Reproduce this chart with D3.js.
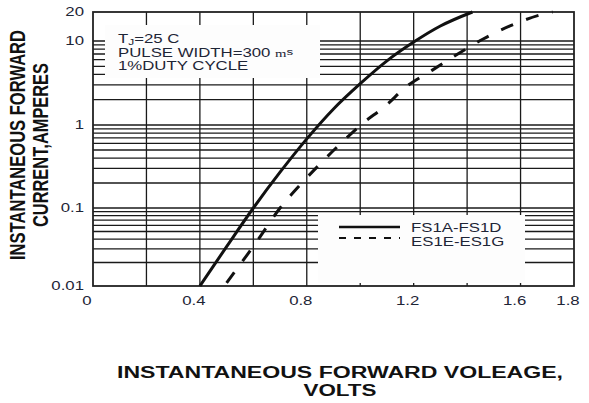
<!DOCTYPE html>
<html>
<head>
<meta charset="utf-8">
<script src="https://cdn.jsdelivr.net/npm/d3@7/dist/d3.min.js"></script>
<style>
  body { margin: 0; background: #fff; }
  text { font-family: "Liberation Sans", Arial, sans-serif; }
</style>
</head>
<body>
<div id="chart"></div>
<script>
// values
const fs1aVolts = [0.40, 0.50, 0.60, 0.70, 0.80, 0.90, 1.00, 1.10, 1.20, 1.30, 1.42];
const fs1aAmps  = [0.010, 0.032, 0.10, 0.27, 0.68, 1.55, 3.1, 5.8, 9.7, 14.3, 20];

const es1eVolts = [0.50, 0.61, 0.70, 0.775, 0.85, 0.925, 1.01, 1.09, 1.175, 1.27, 1.365, 1.46, 1.57, 1.70, 1.72];
const es1eAmps  = [0.011, 0.036, 0.10, 0.19, 0.34, 0.59, 1.05, 1.64, 2.9, 4.5, 7.0, 10.5, 14.7, 19.5, 20];

const seriesNames = ["FS1A-FS1D", "ES1E-ES1G"];

const xTickValues = [0, 0.4, 0.8, 1.2, 1.6, 1.8];
const xTickLabels = ["0", "0.4", "0.8", "1.2", "1.6", "1.8"];
const xGridValues = [0.2, 0.4, 0.6, 0.8, 1.0, 1.2, 1.4, 1.6];
const yTickValues = [0.01, 0.1, 1, 10, 20];
const yTickLabels = ["0.01", "0.1", "1", "10", "20"];

const xTitle = ["INSTANTANEOUS FORWARD VOLEAGE,", "VOLTS"];
const yTitle = ["INSTANTANEOUS FORWARD", "CURRENT,AMPERES"];

// the picture is stretched sideways, so every text is too
const SX = 1.4;
const TEXT_COLOR = "#1e2536";
const GRID_COLOR = "#1a1a1a";

const svg = d3.select("#chart")
  .append("svg")
  .attr("width", 589)
  .attr("height", 403);

const x = d3.scaleLinear()
  .domain([0, 1.8])
  .range([93, 574]);

// decades in the original are not quite even
const y = d3.scaleLog()
  .domain([0.01, 0.1, 1, 10, 20])
  .range([286, 208, 125, 41, 12]);

const addText = (g, px, py, str, size, { weight = "normal", anchor = "start", fill = TEXT_COLOR, rotate = 0 } = {}) => g.append("text")
  .attr("transform", `translate(${px},${py}) scale(${SX},1)` + (rotate ? ` rotate(${rotate})` : ""))
  .attr("font-size", size)
  .attr("font-weight", weight)
  .attr("text-anchor", anchor)
  .attr("fill", fill)
  .text(str);

// minor grid for the log axis
const yGridValues = [];
[0.01, 0.1, 1].forEach(decade => {
  for (let k = 1; k <= 9; k++) yGridValues.push(decade * k);
});
yGridValues.push(10);

const grid = svg.append("g")
  .attr("stroke", GRID_COLOR)
  .attr("stroke-width", 1.3);

grid.selectAll("line.h")
  .data(yGridValues.filter(v => v > 0.01))
  .enter()
  .append("line")
  .attr("x1", x(0))
  .attr("x2", x(1.8))
  .attr("y1", d => y(d))
  .attr("y2", d => y(d));

grid.selectAll("line.v")
  .data(xGridValues)
  .enter()
  .append("line")
  .attr("x1", d => x(d))
  .attr("x2", d => x(d))
  .attr("y1", y(20))
  .attr("y2", y(0.01));

// white panels that hide the grid behind the notes and the legend
svg.append("rect")
  .attr("x", 105).attr("y", 25)
  .attr("width", 215).attr("height", 53)
  .attr("fill", "#fdfdfd");

svg.append("rect")
  .attr("x", 318).attr("y", 215)
  .attr("width", 207).attr("height", 68)
  .attr("fill", "#fdfdfd");

// frame
svg.append("rect")
  .attr("x", x(0))
  .attr("y", y(20))
  .attr("width", x(1.8) - x(0))
  .attr("height", y(0.01) - y(20))
  .attr("fill", "none")
  .attr("stroke", "#222")
  .attr("stroke-width", 1.8);

// curves
const line = d3.line()
  .x(d => x(d[0]))
  .y(d => y(d[1]))
  .curve(d3.curveMonotoneX);

const series = [
  { name: seriesNames[0], values: d3.zip(fs1aVolts, fs1aAmps), dash: null },
  { name: seriesNames[1], values: d3.zip(es1eVolts, es1eAmps), dash: "13,14" },
];

svg.selectAll("path.curve")
  .data(series)
  .enter()
  .append("path")
  .attr("class", "curve")
  .attr("d", d => line(d.values))
  .attr("fill", "none")
  .attr("stroke", "#111")
  .attr("stroke-width", 3)
  .attr("stroke-dasharray", d => d.dash);

// tick labels
const labels = svg.append("g");

xTickValues.forEach((v, i) => addText(labels, x(v) - 6, 305, xTickLabels[i], 12, { anchor: "middle" }));
yTickValues.forEach((v, i) => addText(labels, 84, y(v) + 4, yTickLabels[i], 12, { anchor: "end" }));

// conditions note
const note = addText(labels, 118, 43, "T", 12);
note.append("tspan").attr("font-size", 8.5).attr("dy", 2).text("J");
note.append("tspan").attr("dy", -2).text("=25 C");

const pulse = addText(labels, 118, 56.5, "PULSE WIDTH=300 ", 12);
pulse.append("tspan").attr("font-family", "Liberation Serif, serif").attr("font-size", 10.5).text("m");
pulse.append("tspan").attr("font-size", 9.5).attr("dy", -2).text("s");

addText(labels, 118, 70, "1%DUTY CYCLE", 12);

// legend
const legend = svg.append("g");
series.forEach((s, i) => {
  legend.append("line")
    .attr("x1", 339).attr("x2", 400)
    .attr("y1", 227 + i * 11).attr("y2", 227 + i * 11)
    .attr("stroke", "#111")
    .attr("stroke-width", i ? 1.8 : 2.6)
    .attr("stroke-dasharray", i ? "7,8" : null);
  addText(legend, 411, 232 + i * 13.5, s.name, 12);
});

// axis titles
const titles = svg.append("g");
addText(titles, 340, 378, xTitle[0], 16, { weight: "bold", anchor: "middle", fill: "#111" })
  .attr("textLength", 446 / SX).attr("lengthAdjust", "spacingAndGlyphs");
addText(titles, 340, 396, xTitle[1], 16, { weight: "bold", anchor: "middle", fill: "#111" });

addText(titles, 25, 145, yTitle[0], 16.3, { weight: "bold", anchor: "middle", fill: "#111", rotate: -90 })
  .attr("textLength", 230).attr("lengthAdjust", "spacingAndGlyphs");
addText(titles, 48, 145, yTitle[1], 16.3, { weight: "bold", anchor: "middle", fill: "#111", rotate: -90 })
  .attr("textLength", 164).attr("lengthAdjust", "spacingAndGlyphs");
</script>
</body>
</html>
